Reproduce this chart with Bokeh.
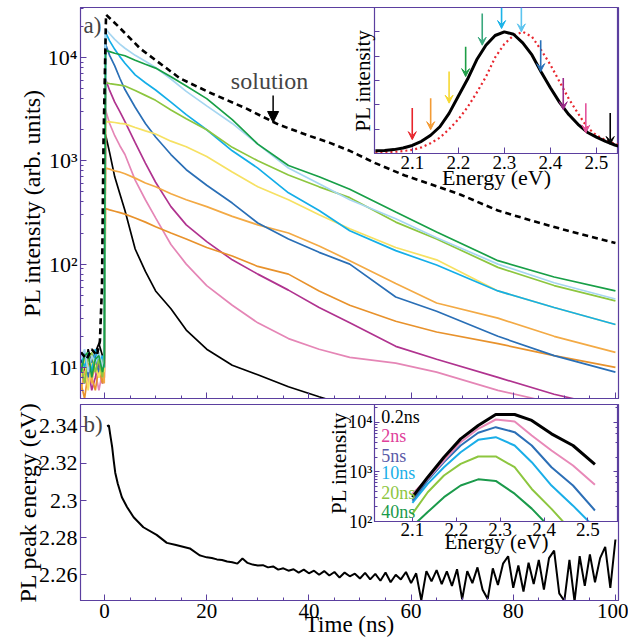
from bokeh.plotting import figure
from bokeh.layouts import column
from bokeh.models import (Range1d, SingleIntervalTicker, FixedTicker, LogTicker,
                          CustomJSTickFormatter, Arrow, VeeHead, NormalHead, Label, LogAxis)
from bokeh.core.properties import value
from bokeh.embed import file_html
from bokeh.resources import INLINE

FONT = "Liberation Serif"
FRAME = "#5b3f9f"

# ---------------- data: panel a) PL decay traces ----------------
t_ns = [-4.6, -3.9, -3.2, -2.5, -1.8, -1.1, -0.4, -0.05,
        0.2, 1, 2, 3, 4, 6, 8, 10, 13, 16, 20, 25, 30, 36, 42, 48, 57, 65, 77, 88, 100]

light_blue = [12, 15, 9, 13, 11, 14, 10, 12,
              19000, 17000, 15000, 13500, 12300, 10500, 9200, 8000, 6200, 4700, 3400, 2300,
              1450, 850, 600, 420, 275, 180, 100, 66, 46]
sky_blue = [13, 10, 14, 9, 15, 11, 13, 10,
            17500, 14500, 12000, 10200, 8800, 6800, 5700, 4850, 3700, 2800, 2000, 1250,
            850, 490, 330, 210, 135, 98, 55, 38, 26]
dark_green = [9, 13, 14, 8, 12, 13, 9, 11,
              11700, 11400, 11000, 10700, 10400, 9400, 8600, 7900, 6500, 5300, 4000, 2500,
              1450, 900, 700, 530, 320, 205, 108, 75, 55]
light_green = [11, 7, 12, 14, 9, 12, 8, 13,
               5700, 5600, 5500, 5400, 5300, 4800, 4300, 3850, 3100, 2550, 2000, 1350,
               1000, 730, 560, 440, 255, 175, 93, 62, 44]
yellow = [8, 12, 6, 11, 10, 8, 12, 9,
          2400, 2380, 2350, 2300, 2280, 2100, 1950, 1820, 1550, 1370, 1100, 780,
          560, 420, 300, 220, 145, 110, 55, 38, 26]
blue = [10, 14, 8, 12, 13, 9, 11, 10,
        13500, 10500, 8300, 6300, 4900, 3300, 2300, 1700, 1150, 820, 580, 390,
        250, 175, 130, 100, 48, 35, 20, 13, 9]
orange_light = [6, 9, 11, 7, 12, 8, 10, 7,
                850, 830, 800, 780, 750, 680, 610, 560, 480, 420, 360, 290,
                240, 200, 150, 108, 65, 42, 30, 20, 14]
orange_dark = [7, 5, 9, 8, 6, 10, 7, 9,
               345, 335, 325, 315, 305, 280, 255, 230, 200, 175, 145, 120,
               95, 80, 55, 40, 28, 22, 17, 13, 10]
magenta = [9, 7, 10, 6, 8, 11, 7, 8,
           6200, 4800, 3700, 3000, 2400, 1500, 950, 620, 360, 240, 165, 110,
           80, 56, 38, 27, 16, 12, 8, 5.5, 4]
pink = [8, 11, 7, 10, 9, 6, 9, 8,
        3100, 2300, 1750, 1400, 1150, 650, 420, 280, 155, 100, 62, 40,
        27, 19, 15, 12.5, 11, 9, 6, 4.5, 3.5]
black_tr = [12, 9, 15, 11, 14, 17, 13, 12,
            1800, 1200, 700, 480, 330, 140, 85, 55, 37, 23, 15, 10.5,
            8.5, 6.5, 5.2, 4.2, 3.5, 3, 2.5, 2.2, 2]

solution_t = [-4.6, -3.5, -2.5, -1.5, -0.9, -0.5, -0.2, 0.3, 2.5, 7, 14.8, 21, 27.8, 34, 40,
              44, 48, 53, 58.8, 64, 69.7, 77, 84, 90, 95, 100]
solution_v = [14, 12, 15, 13, 18, 60, 1500, 26000, 20500, 12200, 6270, 4480, 3200, 2250, 1750,
              1500, 1250, 950, 720, 590, 470, 330, 260, 215, 185, 160]

trace_colors = {
    "black": "#000000", "pink": "#e586b6", "magenta": "#b0338f", "orange_dark": "#e8922c",
    "orange_light": "#f3aa45", "blue": "#2a6fb6", "yellow": "#f6e163", "sky_blue": "#14aee8",
    "light_green": "#8dc63f", "light_blue": "#a6d6f1", "dark_green": "#189f47",
}

# ---------------- data: panel b) peak energy ----------------
peak_t = [0.5, 0.85, 1.2, 1.5, 1.8, 2.1, 2.6, 3.4, 4.4, 5.7, 7.6, 10.2, 12.2, 14, 16.7, 18.6] + list(range(19, 101))
peak_e = [2.3400, 2.3404, 2.3340, 2.3287, 2.3215, 2.3150, 2.3090, 2.3018, 2.2965, 2.2910,
          2.2856, 2.2815, 2.2772, 2.2760, 2.2742, 2.2705,
          2.2702, 2.2694, 2.2690, 2.2683, 2.2680, 2.2672, 2.2668, 2.2660, 2.2688, 2.2664,
          2.2655, 2.2650, 2.2652, 2.2640, 2.2645, 2.2628, 2.2635, 2.2622, 2.2630, 2.2612,
          2.2628, 2.2608, 2.2622, 2.2600, 2.2620, 2.2596, 2.2615, 2.2585, 2.2612, 2.2592,
          2.2606, 2.2580, 2.2610, 2.2575, 2.2605, 2.2568, 2.2612, 2.2560, 2.2600, 2.2575,
          2.2615, 2.2555, 2.2608, 2.2462, 2.2620, 2.2565, 2.2625, 2.2550, 2.2618, 2.2540,
          2.2630, 2.2468, 2.2620, 2.2555, 2.2640, 2.2520, 2.2470, 2.2635, 2.2545, 2.2660,
          2.2700, 2.2530, 2.2650, 2.2510, 2.2665, 2.2550, 2.2680, 2.2520, 2.2690, 2.2730,
          2.2500, 2.2460, 2.2680, 2.2456, 2.2700, 2.2540, 2.2710, 2.2560, 2.2690, 2.2750,
          2.2530, 2.2790]

# ---------------- data: inset 1 (spectra) ----------------
spec_e = [2.02, 2.04, 2.06, 2.08, 2.10, 2.12, 2.14, 2.16, 2.18, 2.20, 2.22, 2.24, 2.26, 2.28,
          2.30, 2.32, 2.34, 2.36, 2.38, 2.40, 2.42, 2.44, 2.46, 2.48, 2.50, 2.52, 2.54, 2.56, 2.58]
spec_film = [0.022, 0.025, 0.032, 0.045, 0.066, 0.10, 0.15, 0.22, 0.33, 0.47, 0.61, 0.77, 0.89, 0.97,
             1.00, 0.98, 0.91, 0.81, 0.67, 0.54, 0.42, 0.32, 0.24, 0.175, 0.135, 0.10, 0.07, 0.045, 0.032]
spec_solution = [0.008, 0.01, 0.013, 0.02, 0.03, 0.05, 0.085, 0.13, 0.20, 0.28, 0.38, 0.50, 0.63, 0.79,
                 0.90, 0.97, 1.00, 0.96, 0.85, 0.73, 0.59, 0.45, 0.33, 0.215, 0.15, 0.11, 0.08, 0.058, 0.035]
arrow_energy = [2.100, 2.140, 2.180, 2.216, 2.252, 2.294, 2.337, 2.379, 2.428, 2.477, 2.530]
arrow_top = [0.373, 0.455, 0.673, 0.877, 1.15, 1.2, 1.2, 0.93, 0.62, 0.414, 0.332]
arrow_tip = [0.114, 0.196, 0.414, 0.632, 0.89, 1.027, 1.0, 0.673, 0.36, 0.169, 0.074]
arrow_colors = ["#e8252c", "#f39b35", "#f6d832", "#1e9e46", "#3aa87e", "#1bb3e8",
                "#5cc4ef", "#2870b8", "#9b2b8a", "#e4539c", "#000000"]

# ---------------- data: inset 2 (time-resolved spectra) ----------------
ts_e = [2.10, 2.135, 2.172, 2.21, 2.25, 2.29, 2.333, 2.372, 2.417, 2.466, 2.516]
ts_02ns = [310, 785, 1990, 4670, 8700, 14500, 14500, 11000, 5900, 3430, 1420]
ts_2ns = [363, 730, 1700, 4000, 7450, 11500, 10500, 5460, 2720, 1350, 550]
ts_5ns = [265, 680, 1580, 3430, 6200, 8050, 6380, 3430, 1250, 533, 167]
ts_10ns = [238, 575, 1250, 2510, 4470, 5060, 3430, 1580, 533, 209, 75]
ts_20ns = [143, 390, 850, 1460, 2060, 2060, 1250, 455, 180, 60, 25]
ts_40ns = [80, 155, 310, 535, 710, 660, 365, 182, 70, 30, 15]
ts_labels = ["0.2ns", "2ns", "5ns", "10ns", "20ns", "40ns"]
ts_line_colors = ["#000000", "#e889b8", "#2c6fb6", "#1aaee8", "#8dc63f", "#1b9a4b"]
ts_text_colors = ["#000000", "#e0409a", "#5a5aa8", "#1ab0e8", "#8dc63f", "#1a9a4a"]
ts_label_y = [12800, 5460, 2150, 935, 368, 152]

BORDER_LEFT = 80  # all plots in the column share the same left border


def log_fmt():
    return CustomJSTickFormatter(code="""
        const sup = {"0":"\u2070","1":"\u00b9","2":"\u00b2","3":"\u00b3","4":"\u2074",
                     "5":"\u2075","6":"\u2076","7":"\u2077","8":"\u2078","9":"\u2079","-":"\u207b"};
        const e = Math.round(Math.log10(tick));
        return "10" + String(e).split("").map(c => sup[c]).join("");
    """)


def blank_fmt():
    return CustomJSTickFormatter(code='return "";')


def style_axis(ax, label_size="22px", axis_size="24px", tick_in=6, minor_in=3):
    ax.axis_line_color = FRAME
    ax.major_tick_line_color = FRAME
    ax.minor_tick_line_color = FRAME
    ax.major_tick_in = tick_in
    ax.major_tick_out = 0
    ax.minor_tick_in = minor_in
    ax.minor_tick_out = 0
    ax.major_label_text_font = FONT
    ax.major_label_text_font_size = label_size
    ax.major_label_text_color = "black"
    ax.axis_label_text_font = FONT
    ax.axis_label_text_font_style = "normal"
    ax.axis_label_text_font_size = axis_size
    ax.axis_label_text_color = "black"


def hide_labels(ax):
    ax.formatter = blank_fmt()
    ax.major_label_text_font_size = "1px"
    ax.major_label_standoff = 0


def base_style(p):
    p.grid.visible = False
    p.outline_line_color = FRAME
    p.outline_line_width = 1.2
    p.background_fill_color = "white"


# ---------------- panel a ----------------
top = figure(frame_width=538, frame_height=391, x_range=Range1d(-4.7, 100.6),
             y_range=Range1d(5.0, 30500), y_axis_type="log",
             output_backend="svg", toolbar_location=None,
             min_border_left=BORDER_LEFT, min_border_right=10, min_border_top=7, min_border_bottom=6)
base_style(top)
style_axis(top.xaxis[0])
style_axis(top.yaxis[0])
top.xaxis.ticker = SingleIntervalTicker(interval=20, num_minor_ticks=4)
hide_labels(top.xaxis[0])
top.yaxis.formatter = log_fmt()
top.yaxis.major_label_standoff = 3
top.yaxis.axis_label = "PL intensity (arb. units)"
top.yaxis.axis_label_standoff = 0

order = [("black", black_tr), ("pink", pink), ("magenta", magenta), ("orange_dark", orange_dark),
         ("orange_light", orange_light), ("blue", blue), ("yellow", yellow), ("sky_blue", sky_blue),
         ("light_green", light_green), ("light_blue", light_blue), ("dark_green", dark_green)]
for name, vals in order:
    top.line(t_ns, vals, line_color=trace_colors[name], line_width=1.7)
top.line(solution_t, solution_v, line_color="black", line_width=2.6, line_dash="6 4")

top.add_layout(Label(x=-4.1, y=20200, text="a)", text_font=FONT, text_font_size="23px",
                     text_baseline="middle", text_align="left"))
top.add_layout(Label(x=32.3, y=5865, text="solution", text_font=FONT, text_font_size="24px",
                     text_baseline="middle", text_align="center"))
top.add_layout(Arrow(x_start=33.0, y_start=4285, x_end=33.0, y_end=2350, line_color="black",
                     line_width=1.5, end=NormalHead(size=11, fill_color="black", line_color="black")))

# ---------------- panel b ----------------
bot = figure(frame_width=538, frame_height=196, x_range=Range1d(-4.7, 100.6),
             y_range=Range1d(2.24616, 2.3517),
             output_backend="svg", toolbar_location=None,
             min_border_left=BORDER_LEFT, min_border_right=10, min_border_top=0, min_border_bottom=39)
base_style(bot)
style_axis(bot.xaxis[0], label_size="21px", axis_size="23px")
style_axis(bot.yaxis[0], minor_in=0)
bot.xaxis.ticker = SingleIntervalTicker(interval=20, num_minor_ticks=4)
bot.xaxis.major_label_standoff = 3
bot.xaxis.axis_label = "Time (ns)"
bot.xaxis.axis_label_standoff = -9
bot.xaxis.axis_label_text_line_height = 1.0
bot.xaxis.major_label_text_line_height = 1.0
bot.yaxis.ticker = FixedTicker(ticks=[2.26, 2.28, 2.30, 2.32, 2.34], minor_ticks=[])
bot.yaxis.formatter = CustomJSTickFormatter(code="return String(parseFloat(tick.toFixed(2)));")
bot.yaxis.major_label_standoff = 3
bot.yaxis.axis_label = "PL peak energy (eV)"
bot.yaxis.axis_label_standoff = -5
bot.line(peak_t, peak_e, line_color="black", line_width=2)
bot.add_layout(Label(x=-4.1, y=2.3409, text="b)", text_font=FONT, text_font_size="23px",
                     text_baseline="middle", text_align="left"))

# ---------------- inset 1 ----------------
ins1 = figure(frame_width=244, frame_height=146, x_range=Range1d(2.018, 2.548),
              y_range=Range1d(0, 1.2), output_backend="svg", toolbar_location=None,
              min_border_left=BORDER_LEFT, min_border_right=0, min_border_top=0, min_border_bottom=45,
              styles={"position": "absolute", "left": f"{374 - BORDER_LEFT}px", "top": "7px"})
base_style(ins1)
ins1.border_fill_alpha = 0
style_axis(ins1.xaxis[0], label_size="19px", axis_size="22px", tick_in=6)
style_axis(ins1.yaxis[0], axis_size="21px", tick_in=5)
ins1.xaxis.ticker = FixedTicker(ticks=[2.1, 2.2, 2.3, 2.4, 2.5], minor_ticks=[])
ins1.xaxis.major_label_standoff = 2
ins1.xaxis.axis_label = "Energy (eV)"
ins1.xaxis.axis_label_standoff = -7
ins1.yaxis.ticker = FixedTicker(ticks=[0.2, 0.4, 0.6, 0.8, 1.0], minor_ticks=[])
hide_labels(ins1.yaxis[0])
ins1.yaxis.axis_label = "PL intensity"
ins1.yaxis.axis_label_standoff = 0
ins1.line(spec_e, spec_solution, line_color="#e8262e", line_width=2.2, line_dash="2 3")
ins1.line(spec_e, spec_film, line_color="black", line_width=3)
for e, y0, y1, c in zip(arrow_energy, arrow_top, arrow_tip, arrow_colors):
    ins1.add_layout(Arrow(x_start=e, y_start=y0, x_end=e, y_end=y1, line_color=c, line_width=1.6,
                          end=VeeHead(size=8, line_color=c, fill_color=c)))

# ---------------- inset 2 ----------------
ins2 = figure(frame_width=244, frame_height=117, x_range=Range1d(2.0137, 2.5697),
              y_range=Range1d(100, 23100), y_axis_type="log",
              output_backend="svg", toolbar_location=None,
              min_border_left=BORDER_LEFT, min_border_right=0, min_border_top=0, min_border_bottom=40,
              styles={"position": "absolute", "left": f"{374 - BORDER_LEFT}px", "top": "404px"})
base_style(ins2)
ins2.border_fill_alpha = 0
style_axis(ins2.xaxis[0], label_size="19px", axis_size="21px", tick_in=4)
style_axis(ins2.yaxis[0], label_size="18px", axis_size="21px", tick_in=5)
ins2.xaxis.ticker = FixedTicker(ticks=[2.1, 2.2, 2.3, 2.4, 2.5], minor_ticks=[])
ins2.xaxis.major_label_standoff = 1
ins2.xaxis.axis_label = "Energy (eV)"
ins2.xaxis.axis_label_standoff = -9
ins2.yaxis.formatter = log_fmt()
ins2.yaxis.major_label_standoff = 2
ins2.yaxis.axis_label = "PL intensity"
ins2.yaxis.axis_label_standoff = -6
right_ax = LogAxis(ticker=LogTicker())
style_axis(right_ax, tick_in=5)
hide_labels(right_ax)
ins2.add_layout(right_ax, "right")
for vals, c in zip([ts_40ns, ts_20ns, ts_10ns, ts_5ns, ts_2ns, ts_02ns], ts_line_colors[::-1]):
    ins2.line(ts_e, vals, line_color=c, line_width=3 if c == "#000000" else 2)
ins2.text(x=[2.029] * len(ts_labels), y=ts_label_y, text=ts_labels, text_color=ts_text_colors,
          text_font=value(FONT), text_font_size=value("18px"), text_baseline="middle", text_align="left")

root = column(top, bot, ins1, ins2, spacing=0,
              styles={"position": "absolute", "left": "0px", "top": "0px"})
open("out.html", "w").write(file_html(root, INLINE))
